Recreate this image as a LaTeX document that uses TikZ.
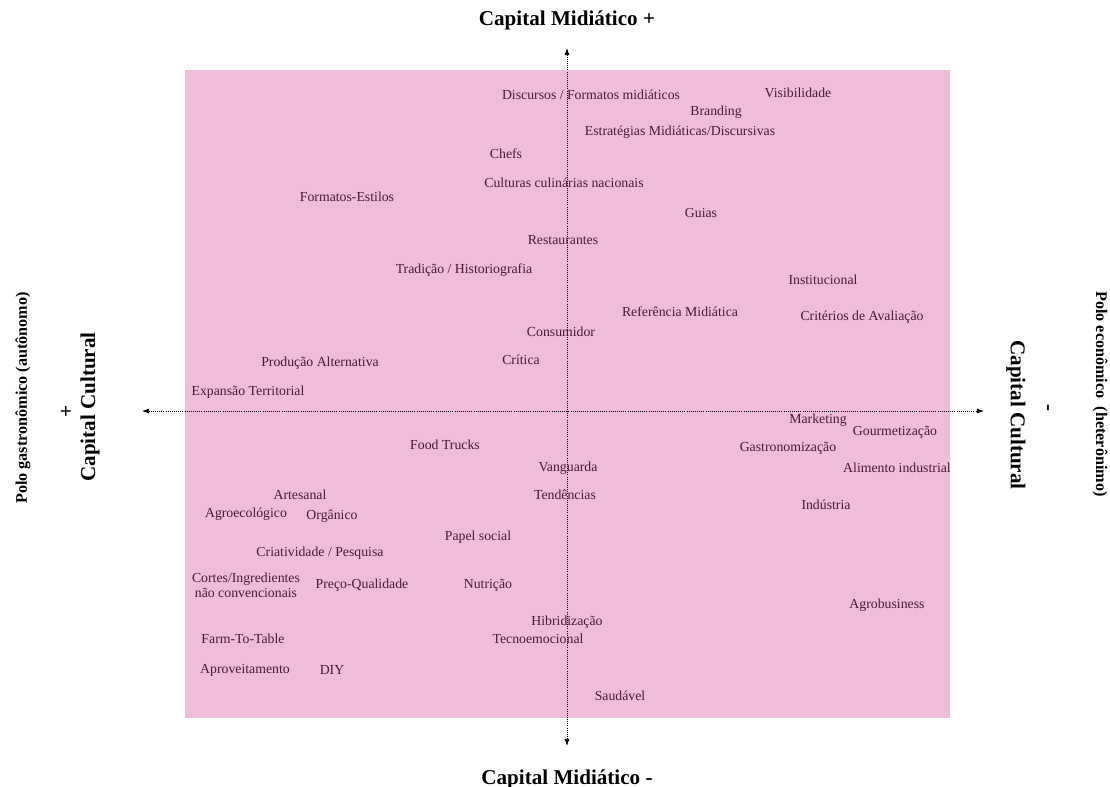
\documentclass[tikz,border=0pt]{standalone}
\usepackage{fontspec}
\setmainfont{Liberation Serif}
\usetikzlibrary{arrows.meta}
\definecolor{campo}{RGB}{240,188,220}
\definecolor{termo}{RGB}{78,24,56}
\begin{document}
\begin{tikzpicture}[x=0.025cm,y=-0.025cm,
        termo/.style={text=termo,font=\fontsize{9.8}{10.5}\selectfont,inner sep=1pt,align=center},
        eixo/.style={font=\fontsize{15}{17}\selectfont\bfseries},
        polo/.style={font=\fontsize{11.5}{13}\selectfont\bfseries},
        seta/.style={densely dotted,line width=.5pt,{Latex[length=5pt,width=3.5pt]}-{Latex[length=5pt,width=3.5pt]}}]
        \useasboundingbox (0,0) rectangle (1110,787);
        \fill [campo] (185,70) rectangle (950,718);
        \coordinate (mtop) at (567,48);
        \coordinate (mbot) at (567,746);
        \coordinate (cesq) at (142,411);
        \coordinate (cdir) at (984,411);
        \draw [seta] (mtop) -- (mbot);
        \draw [seta] (cesq) -- (cdir);
        \node [eixo] (midmais) at (567,20) {Capital Midiático +};
        \node [eixo] (midmenos) at (567,779) {Capital Midiático -};
        \node [polo,rotate=90] (autonomo) at (23,398) {Polo gastronômico (autônomo)};
        \node [eixo,rotate=90] (maisc) at (67,411) {+};
        \node [eixo,rotate=90] (culmais) at (90,407) {Capital Cultural};
        \node [polo,rotate=-90] (hetero) at (1100,394) {Polo econômico\ \ (heterônimo)};
        \node [eixo,rotate=-90] (menosc) at (1046,408) {-};
        \node [eixo,rotate=-90] (culmenos) at (1016,415) {Capital Cultural};
        \node [termo] (disc) at (591,95) {Discursos / Formatos midiáticos};
        \node [termo] (visib) at (798,93) {Visibilidade};
        \node [termo] (brand) at (716,112) {Branding};
        \node [termo] (estrat) at (680,132) {Estratégias Midiáticas/Discursivas};
        \node [termo] (chefs) at (506,154) {Chefs};
        \node [termo] (cult) at (564,183) {Culturas culinárias nacionais};
        \node [termo] (formest) at (347,197) {Formatos-Estilos};
        \node [termo] (guias) at (701,213) {Guias};
        \node [termo] (rest) at (563,240) {Restaurantes};
        \node [termo] (trad) at (464,270) {Tradição / Historiografia};
        \node [termo] (inst) at (823,280) {Institucional};
        \node [termo] (refmid) at (680,312) {Referência Midiática};
        \node [termo] (crit) at (862,317) {Critérios de Avaliação};
        \node [termo] (cons) at (561,332) {Consumidor};
        \node [termo] (critica) at (521,360) {Crítica};
        \node [termo] (prodalt) at (320,363) {Produção Alternativa};
        \node [termo] (expter) at (248,392) {Expansão Territorial};
        \node [termo] (mkt) at (818,420) {Marketing};
        \node [termo] (gourm) at (895,432) {Gourmetização};
        \node [termo] (food) at (445,445) {Food Trucks};
        \node [termo] (gastro) at (788,448) {Gastronomização};
        \node [termo] (vang) at (568,468) {Vanguarda};
        \node [termo] (alim) at (897,468) {Alimento industrial};
        \node [termo] (artes) at (300,495) {Artesanal};
        \node [termo] (tend) at (565,495) {Tendências};
        \node [termo] (ind) at (826,505) {Indústria};
        \node [termo] (agroeco) at (246,514) {Agroecológico};
        \node [termo] (organ) at (332,516) {Orgânico};
        \node [termo] (papel) at (478,537) {Papel social};
        \node [termo] (criat) at (320,553) {Criatividade / Pesquisa};
        \node [termo] (cortes) at (246,585) {Cortes/Ingredientes\\não convencionais};
        \node [termo] (preco) at (362,585) {Preço-Qualidade};
        \node [termo] (nutri) at (488,585) {Nutrição};
        \node [termo] (agrob) at (887,605) {Agrobusiness};
        \node [termo] (hibr) at (567,622) {Hibridização};
        \node [termo] (farm) at (243,639) {Farm-To-Table};
        \node [termo] (tecno) at (538,639) {Tecnoemocional};
        \node [termo] (aprov) at (245,670) {Aproveitamento};
        \node [termo] (diy) at (332,670) {DIY};
        \node [termo] (saud) at (620,696) {Saudável};
    \end{tikzpicture}
\end{document}
